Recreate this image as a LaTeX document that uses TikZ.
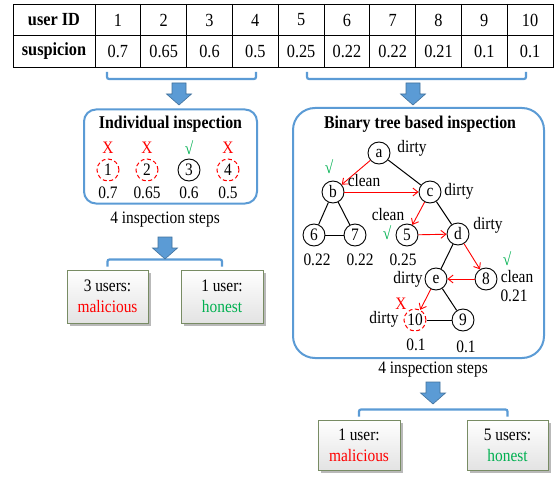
\documentclass[tikz,border=0pt]{standalone}
\usepackage{fontspec}
\setmainfont{Liberation Serif}[FakeStretch=0.88]
\usetikzlibrary{arrows.meta,shadows,calc}

\definecolor{bracketblue}{RGB}{91,155,213}
\definecolor{arrowedge}{RGB}{65,113,156}
\definecolor{okgreen}{RGB}{0,176,80}
\definecolor{boxedge}{RGB}{120,140,100}

\tikzset{
  cell/.style={font=\fontsize{18.5}{20}\selectfont, inner sep=0pt},
  headcell/.style={font=\fontsize{18.5}{20}\selectfont\bfseries, inner sep=0pt},
  lbl/.style={font=\fontsize{17.5}{19}\selectfont, inner sep=0pt},
  title/.style={font=\fontsize{18}{20}\selectfont\bfseries, inner sep=0pt},
  usr/.style={circle, draw, line width=0.9pt, minimum size=22pt, inner sep=0pt,
    font=\fontsize{17.5}{19}\selectfont},
  flagged/.style={usr, draw=red, line width=1pt, dash pattern=on 4pt off 2.6pt},
  badmark/.style={lbl, text=red},
  okmark/.style={lbl, text=okgreen},
  edge/.style={line width=1pt},
  probe/.style={red, line width=0.9pt, -{Straight Barb[length=5pt,width=8pt]}},
  bracket/.style={bracketblue, line width=2.2pt, rounded corners=2pt},
  panel/.style={draw=bracketblue, line width=2pt},
  verdict/.style={draw=boxedge, line width=1pt, top color=white, bottom color=gray!22,
    drop shadow={shadow xshift=2.5pt, shadow yshift=-2.5pt, fill=gray!55, opacity=1},
    align=center, inner sep=0pt, font=\fontsize{17.5}{21}\selectfont},
  blockarrow/.pic={
    \filldraw[fill=bracketblue, draw=arrowedge, line width=0.6pt]
      (-7,0) -- (7,0) -- (7,11) -- (12.5,11) -- (0,22) -- (-12.5,11) -- (-7,11) -- cycle;
  },
}

\begin{document}
\begin{tikzpicture}[x=1pt, y=-1pt]
\useasboundingbox (0,0) rectangle (556,476);

% ---------- table of users and suspicion values ----------
\draw[line width=0.9pt] (13,4) rectangle (553,67);
\draw[line width=0.8pt] (13,35) -- (553,35);
\foreach \k in {0,...,9} {
  \draw[line width=0.8pt] ({95+45.8*\k},4) -- ({95+45.8*\k},67);
}
\node[headcell] (idhead) at (54,20) {user ID};
\node[headcell] (sushead) at (54,51) {suspicion};
\foreach \v [count=\i] in {0.7,0.65,0.6,0.5,0.25,0.22,0.22,0.21,0.1,0.1} {
  \node[cell] (id\i) at ({95+45.8*(\i-0.5)},20) {\i};
  \node[cell] (s\i) at ({95+45.8*(\i-0.5)},51) {\v};
}

% ---------- brackets splitting the users ----------
\draw[bracket] (107,72) -- (107,79) -- (256,79) -- (256,72);
\draw[bracket] (307,72) -- (307,79) -- (526,79) -- (526,72);
\coordinate (splitL) at (179,83);
\coordinate (splitR) at (413,83);
\pic at (splitL) {blockarrow};
\pic at (splitR) {blockarrow};

% ---------- individual inspection ----------
\node[panel, rounded corners=12pt, minimum width=173pt, minimum height=94pt]
  (indiv) at (170.5,156.5) {};
\node[title] (indivtitle) at (170.5,124) {Individual inspection};
\node[flagged] (u1) at (108,170) {1};
\node[flagged] (u2) at (147,170) {2};
\node[usr]     (u3) at (189,170) {3};
\node[flagged] (u4) at (228,170) {4};
\node[badmark] (x1) at (108,148) {X};
\node[badmark] (x2) at (147,148) {X};
\node[okmark]  (c3) at (189,148) {√};
\node[badmark] (x4) at (228,148) {X};
\node[lbl] (v1) at (108,193) {0.7};
\node[lbl] (v2) at (147,193) {0.65};
\node[lbl] (v3) at (189,193) {0.6};
\node[lbl] (v4) at (228,193) {0.5};
\node[lbl] (stepsL) at (165,220) {4 inspection steps};

% ---------- binary tree based inspection ----------
\node[panel, rounded corners=22pt, minimum width=251pt, minimum height=250pt]
  (tree) at (418.5,233) {};
\node[title] (treetitle) at (420,124) {Binary tree based inspection};

\node[usr] (a) at (379,153) {a};
\node[usr] (b) at (333,192) {b};
\node[usr] (c) at (430,192) {c};
\node[usr] (t6) at (314,235) {6};
\node[usr] (t7) at (355,235) {7};
\node[usr] (t5) at (407,235) {5};
\node[usr] (d) at (458,234) {d};
\node[usr] (e) at (436,279) {e};
\node[usr] (t8) at (486,279) {8};
\node[flagged] (t10) at (415,320) {10};
\node[usr] (t9) at (463,320) {9};

\draw[edge] (a) -- (c);
\draw[edge] (b) -- (t6);
\draw[edge] (b) -- (t7);
\draw[edge] (t6) -- (t7);
\draw[edge] (c) -- (d);
\draw[edge] (d) -- (e);
\draw[edge] (e) -- (t9);
\draw[edge] (t10) -- (t9);

\draw[probe] (a) -- (b);
\draw[probe] (b) -- (c);
\draw[probe] (c) -- (t5);
\draw[probe] (t5) -- (d);
\draw[probe] (d) -- (t8);
\draw[probe] (t8) -- (e);
\draw[probe] (e) -- (t10);

\node[lbl] (la) at (412,148) {dirty};
\node[okmark] (kb) at (329,167) {√};
\node[lbl] (lb) at (364,181) {clean};
\node[lbl] (lc) at (459,191) {dirty};
\node[lbl] (l5) at (388,215) {clean};
\node[okmark] (k5) at (387,233) {√};
\node[lbl] (ld) at (488,225) {dirty};
\node[lbl] (v6) at (317,260) {0.22};
\node[lbl] (v7) at (360,260) {0.22};
\node[lbl] (v5) at (403,260) {0.25};
\node[okmark] (k8) at (507,259) {√};
\node[lbl] (l8) at (517,276.5) {clean};
\node[lbl] (v8) at (514,295.5) {0.21};
\node[lbl] (le) at (408,279) {dirty};
\node[badmark] (x10) at (401,304) {X};
\node[lbl] (l10) at (384,319) {dirty};
\node[lbl] (v10) at (416,345) {0.1};
\node[lbl] (v9) at (466,347) {0.1};
\node[lbl] (stepsR) at (433,370) {4 inspection steps};

% ---------- verdicts ----------
\node[verdict, minimum width=81pt, minimum height=53pt] (mL) at (107.5,296.5)
  {3 users:\\\textcolor{red}{malicious}};
\node[verdict, minimum width=82pt, minimum height=53pt] (hL) at (222,296.5)
  {1 user:\\\textcolor{okgreen}{honest}};
\node[verdict, minimum width=82pt, minimum height=50pt] (mR) at (359,445)
  {1 user:\\\textcolor{red}{malicious}};
\node[verdict, minimum width=81pt, minimum height=50pt] (hR) at (507.5,445)
  {5 users:\\\textcolor{okgreen}{honest}};

\draw[bracket] ([yshift=3pt]mL.north) |- ([yshift=10pt]mL.north -| hL.north)
  -- ([yshift=3pt]hL.north);
\draw[bracket] ([yshift=3pt]mR.north) |- ([yshift=10pt]mR.north -| hR.north)
  -- ([yshift=3pt]hR.north);
\coordinate (joinL) at (165,237);
\coordinate (joinR) at (433,382);
\pic at (joinL) {blockarrow};
\pic at (joinR) {blockarrow};
\end{tikzpicture}
\end{document}
